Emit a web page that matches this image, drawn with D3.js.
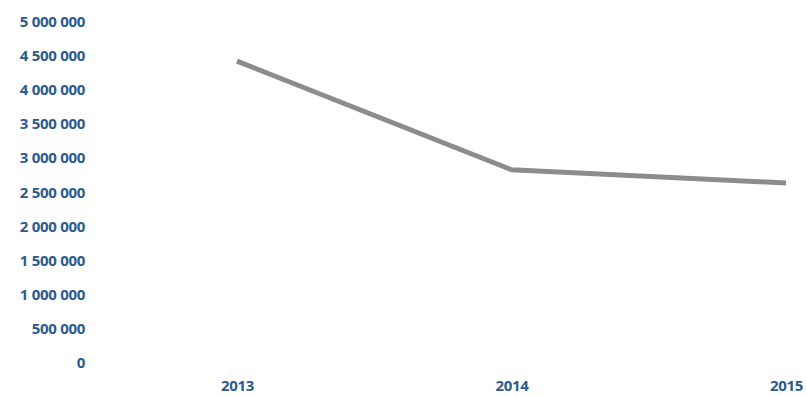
<!DOCTYPE html>
<html>
<head>
<meta charset="utf-8">
<script src="https://cdn.jsdelivr.net/npm/d3@7"></script>
<style>
  html, body { margin: 0; padding: 0; background: #ffffff; }
  svg { display: block; }
  .axis text { font-family: "Noto Sans", "Open Sans", sans-serif; font-weight: 700; fill: #2c5a8f; }
</style>
</head>
<body>
<svg id="chart" width="806" height="395"></svg>
<script>
// Yearly totals
const years = ["2013", "2014", "2015"];
const totals = [4420000, 2830000, 2635000];
const yTicks = [0, 500000, 1000000, 1500000, 2000000, 2500000, 3000000, 3500000, 4000000, 4500000, 5000000];

const svg = d3.select("#chart");

const x = d3.scalePoint().domain(years).range([237, 786]);
const y = d3.scaleLinear().domain([0, 5000000]).range([363, 21.5]);

const fmtSpace = v => d3.format(",")(v).replace(/,/g, " ");

// Value axis labels, no line or ticks
const yAxis = svg.append("g")
  .attr("class", "axis")
  .attr("transform", "translate(85,0)")
  .call(d3.axisLeft(y).tickValues(yTicks).tickFormat(fmtSpace).tickSize(0).tickPadding(0));
yAxis.select(".domain").remove();
yAxis.selectAll("text").style("font-size", "15px").attr("letter-spacing", "-0.3px");

// Category axis labels
const xAxis = svg.append("g")
  .attr("class", "axis")
  .attr("transform", "translate(0,380)")
  .call(d3.axisBottom(x).tickSize(0).tickPadding(0));
xAxis.select(".domain").remove();
xAxis.selectAll("text").style("font-size", "15px").attr("letter-spacing", "-0.3px");

// Trend line
const line = d3.line()
  .x((d, i) => x(years[i]))
  .y(d => y(d));

svg.append("path")
  .datum(totals)
  .attr("d", line)
  .attr("fill", "none")
  .attr("stroke", "#8c8c8c")
  .attr("stroke-width", 5)
  .attr("stroke-linejoin", "round");
</script>
</body>
</html>
